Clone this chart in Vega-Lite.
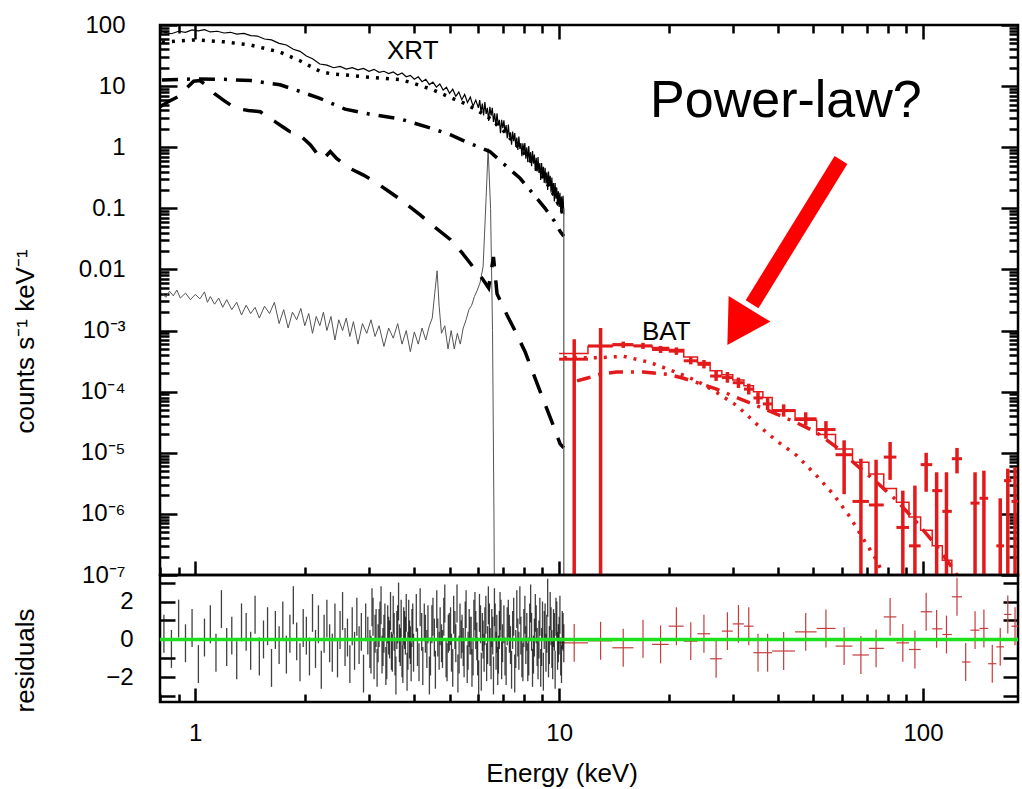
{
  "$schema": "https://vega.github.io/schema/vega-lite/v6.json",
  "background": "white",
  "padding": {"left": 10, "top": 11, "right": 0, "bottom": 0},
  "bounds": "flush",
  "spacing": 0,
  "config": {
    "font": "Liberation Sans",
    "view": {"stroke": "black", "strokeWidth": 2.5},
    "axis": {"domain": false, "grid": false, "tickColor": "black", "tickWidth": 2.5, "labelColor": "black", "titleColor": "black", "labelFont": "Liberation Sans", "titleFont": "Liberation Sans", "labelFontSize": 24, "titleFontSize": 26, "titleFontWeight": "normal", "labelOverlap": false, "labelFlush": false}
  },
  "vconcat": [
    {
      "width": 858,
      "height": 550,
      "resolve": {"axis": {"x": "independent", "y": "independent"}},
      "layer": [
        {
          "data": {"values": [
            {"e":0.81,"v":4.1e-3},{"e":0.83,"v":3.5e-3},{"e":0.85,"v":4.4e-3},{"e":0.87,"v":3.7e-3},{"e":0.89,"v":4.6e-3},{"e":0.91,"v":3.4e-3},{"e":0.94,"v":4.1e-3},{"e":0.97,"v":3.2e-3},{"e":1.0,"v":3.9e-3},{"e":1.03,"v":3.3e-3},{"e":1.06,"v":4.3e-3},{"e":1.08,"v":2.9e-3},{"e":1.1,"v":3.6e-3},{"e":1.13,"v":2.7e-3},{"e":1.16,"v":3.4e-3},{"e":1.19,"v":2.4e-3},{"e":1.22,"v":3.2e-3},{"e":1.26,"v":2.2e-3},{"e":1.3,"v":2.9e-3},{"e":1.34,"v":1.8e-3},{"e":1.38,"v":2.6e-3},{"e":1.42,"v":1.9e-3},{"e":1.46,"v":2.4e-3},{"e":1.5,"v":1.6e-3},{"e":1.55,"v":2.5e-3},{"e":1.6,"v":1.9e-3},{"e":1.65,"v":2.9e-3},{"e":1.7,"v":1.3e-3},{"e":1.75,"v":2.2e-3},{"e":1.8,"v":1.1e-3},{"e":1.85,"v":2.0e-3},{"e":1.9,"v":1.5e-3},{"e":1.95,"v":2.3e-3},{"e":2.0,"v":1.2e-3},{"e":2.05,"v":1.9e-3},{"e":2.1,"v":0.9e-3},{"e":2.15,"v":1.7e-3},{"e":2.2,"v":1.2e-3},{"e":2.25,"v":2.0e-3},{"e":2.3,"v":1.0e-3},{"e":2.36,"v":1.7e-3},{"e":2.42,"v":0.7e-3},{"e":2.48,"v":1.5e-3},{"e":2.54,"v":1.0e-3},{"e":2.6,"v":1.6e-3},{"e":2.66,"v":0.8e-3},{"e":2.72,"v":1.4e-3},{"e":2.8,"v":0.6e-3},{"e":2.88,"v":1.3e-3},{"e":2.96,"v":0.9e-3},{"e":3.04,"v":1.5e-3},{"e":3.12,"v":0.8e-3},{"e":3.2,"v":1.2e-3},{"e":3.3,"v":0.55e-3},{"e":3.4,"v":1.1e-3},{"e":3.5,"v":0.75e-3},{"e":3.6,"v":1.3e-3},{"e":3.7,"v":0.6e-3},{"e":3.8,"v":1.0e-3},{"e":3.9,"v":0.45e-3},{"e":4.0,"v":0.95e-3},{"e":4.1,"v":0.6e-3},{"e":4.2,"v":1.1e-3},{"e":4.3,"v":0.7e-3},{"e":4.4,"v":1.2e-3},{"e":4.48,"v":1.6e-3},{"e":4.55,"v":4e-3},{"e":4.62,"v":9.5e-3},{"e":4.68,"v":2.5e-3},{"e":4.75,"v":0.9e-3},{"e":4.85,"v":1.2e-3},{"e":4.95,"v":0.5e-3},{"e":5.05,"v":1.0e-3},{"e":5.15,"v":0.5e-3},{"e":5.25,"v":0.9e-3},{"e":5.35,"v":0.6e-3},{"e":5.45,"v":1.1e-3},{"e":5.55,"v":1.5e-3},{"e":5.65,"v":2.2e-3},{"e":5.75,"v":2.6e-3},{"e":5.85,"v":3.6e-3},{"e":5.95,"v":4.5e-3},{"e":6.06,"v":6e-3},{"e":6.18,"v":0.011},{"e":6.3,"v":0.15},{"e":6.38,"v":0.95},{"e":6.48,"v":0.1},{"e":6.56,"v":1e-3},{"e":6.62,"v":1e-6},{"e":6.66,"v":1e-9}
          ]},
          "mark": {"type": "line", "color": "#555555", "strokeWidth": 1, "clip": true},
          "encoding": {
            "x": {"field": "e", "type": "quantitative", "scale": {"type": "log", "domain": [0.8, 182.4], "nice": false},
              "axis": {"orient": "bottom", "values": [0.8,0.9,1,2,3,4,5,6,7,8,9,10,20,30,40,50,60,70,80,90,100], "labels": false, "title": null,
                "tickSize": {"condition": {"test": "abs(log(datum.value)/LN10 - round(log(datum.value)/LN10)) < 0.001", "value": -14}, "value": -8}}},
            "y": {"field": "v", "type": "quantitative", "scale": {"type": "log", "domain": [1e-7, 100], "nice": false},
              "axis": {"orient": "left",
                "values": [1e-7,2e-7,3e-7,4e-7,5e-7,6e-7,7e-7,8e-7,9e-7,1e-6,2e-6,3e-6,4e-6,5e-6,6e-6,7e-6,8e-6,9e-6,1e-5,2e-5,3e-5,4e-5,5e-5,6e-5,7e-5,8e-5,9e-5,1e-4,2e-4,3e-4,4e-4,5e-4,6e-4,7e-4,8e-4,9e-4,0.001,0.002,0.003,0.004,0.005,0.006,0.007,0.008,0.009,0.01,0.02,0.03,0.04,0.05,0.06,0.07,0.08,0.09,0.1,0.2,0.3,0.4,0.5,0.6,0.7,0.8,0.9,1,2,3,4,5,6,7,8,9,10,20,30,40,50,60,70,80,90,100],
                "labelExpr": "abs(log(datum.value)/LN10 - round(log(datum.value)/LN10)) > 0.001 ? '' : (datum.value >= 1 ? format(datum.value, 'd') : (datum.value >= 0.009 ? format(datum.value, '') : '10⁻' + ['','','','³','⁴','⁵','⁶','⁷'][round(-log(datum.value)/LN10)]))",
                "labelPadding": 52,
                "tickSize": {"condition": {"test": "abs(log(datum.value)/LN10 - round(log(datum.value)/LN10)) < 0.001", "value": -17}, "value": -9},
                "title": "counts s⁻¹ keV⁻¹", "titleX": -127, "titleY": 316, "titleBaseline": "alphabetic"}}
          }
        },
        {
          "data": {"values": [
            {"e":0.81,"v":12.6},{"e":0.9,"v":12.9},{"e":1.0,"v":13.1},{"e":1.2,"v":12.9},{"e":1.42,"v":12.3},{"e":1.71,"v":10.5},{"e":1.94,"v":8.2},{"e":2.2,"v":6.3},{"e":2.58,"v":4.2},{"e":3.0,"v":3.5},{"e":3.66,"v":2.9},{"e":4.5,"v":2.0},{"e":5.02,"v":1.6},{"e":5.5,"v":1.25},{"e":6.45,"v":0.85},{"e":7.0,"v":0.55},{"e":7.81,"v":0.31},{"e":8.5,"v":0.17},{"e":9.15,"v":0.1},{"e":9.7,"v":0.062},{"e":10.06,"v":0.042},{"e":10.3,"v":0.035}
          ]},
          "mark": {"type": "line", "color": "black", "strokeWidth": 3.5, "strokeDash": [16, 9, 3, 9], "clip": true},
          "encoding": {
            "x": {"field": "e", "type": "quantitative", "scale": {"type": "log", "domain": [0.8, 182.4], "nice": false},
              "axis": {"orient": "top", "values": [0.8,0.9,1,2,3,4,5,6,7,8,9,10,20,30,40,50,60,70,80,90,100], "labels": false, "title": null,
                "tickSize": {"condition": {"test": "abs(log(datum.value)/LN10 - round(log(datum.value)/LN10)) < 0.001", "value": -14}, "value": -8}}},
            "y": {"field": "v", "type": "quantitative", "scale": {"type": "log", "domain": [1e-7, 100], "nice": false},
              "axis": {"orient": "right",
                "values": [1e-7,2e-7,3e-7,4e-7,5e-7,6e-7,7e-7,8e-7,9e-7,1e-6,2e-6,3e-6,4e-6,5e-6,6e-6,7e-6,8e-6,9e-6,1e-5,2e-5,3e-5,4e-5,5e-5,6e-5,7e-5,8e-5,9e-5,1e-4,2e-4,3e-4,4e-4,5e-4,6e-4,7e-4,8e-4,9e-4,0.001,0.002,0.003,0.004,0.005,0.006,0.007,0.008,0.009,0.01,0.02,0.03,0.04,0.05,0.06,0.07,0.08,0.09,0.1,0.2,0.3,0.4,0.5,0.6,0.7,0.8,0.9,1,2,3,4,5,6,7,8,9,10,20,30,40,50,60,70,80,90,100],
                "labels": false, "title": null,
                "tickSize": {"condition": {"test": "abs(log(datum.value)/LN10 - round(log(datum.value)/LN10)) < 0.001", "value": -17}, "value": -9}}}
          }
        },
        {
          "data": {"values": [
            {"e":0.81,"v":52},{"e":0.9,"v":55},{"e":1.0,"v":57},{"e":1.1,"v":55},{"e":1.2,"v":53},{"e":1.42,"v":47},{"e":1.71,"v":36},{"e":1.94,"v":26},{"e":2.2,"v":17.5},{"e":2.35,"v":16},{"e":2.5,"v":15.5},{"e":2.66,"v":15},{"e":3.0,"v":14},{"e":3.66,"v":12.8},{"e":4.0,"v":11},{"e":4.5,"v":8.7},{"e":5.0,"v":6.6},{"e":5.5,"v":5.2},{"e":6.0,"v":3.9},{"e":6.5,"v":2.9},{"e":7.0,"v":1.9},{"e":7.5,"v":1.2},{"e":8.0,"v":0.8},{"e":8.5,"v":0.52},{"e":9.0,"v":0.33},{"e":9.5,"v":0.2},{"e":10.0,"v":0.11},{"e":10.3,"v":0.075}
          ]},
          "mark": {"type": "line", "color": "black", "strokeWidth": 3.5, "strokeDash": [3, 7], "clip": true},
          "encoding": {
            "x": {"field": "e", "type": "quantitative", "scale": {"type": "log", "domain": [0.8, 182.4], "nice": false}, "axis": null},
            "y": {"field": "v", "type": "quantitative", "scale": {"type": "log", "domain": [1e-7, 100], "nice": false}, "axis": null}
          }
        },
        {
          "data": {"values": [
            {"e":0.8,"v":4.6},{"e":0.84,"v":5.5},{"e":0.9,"v":6.8},{"e":0.95,"v":9.5},{"e":0.99,"v":12},{"e":1.03,"v":12.3},{"e":1.08,"v":10},{"e":1.13,"v":7.5},{"e":1.2,"v":5.8},{"e":1.29,"v":4.3},{"e":1.4,"v":4.0},{"e":1.51,"v":3.8},{"e":1.58,"v":3.1},{"e":1.66,"v":2.6},{"e":1.75,"v":2.1},{"e":1.82,"v":1.8},{"e":1.9,"v":1.75},{"e":1.98,"v":1.4},{"e":2.07,"v":1.1},{"e":2.14,"v":0.85},{"e":2.2,"v":0.65},{"e":2.28,"v":0.7},{"e":2.35,"v":0.85},{"e":2.45,"v":0.65},{"e":2.66,"v":0.45},{"e":2.9,"v":0.35},{"e":3.12,"v":0.27},{"e":3.4,"v":0.19},{"e":3.66,"v":0.14},{"e":4.15,"v":0.078},{"e":4.5,"v":0.052},{"e":5.02,"v":0.031},{"e":5.4,"v":0.019},{"e":5.8,"v":0.011},{"e":6.18,"v":0.0068},{"e":6.4,"v":0.005},{"e":6.6,"v":0.016},{"e":6.75,"v":0.004},{"e":7.19,"v":0.0018},{"e":7.56,"v":0.001},{"e":8.06,"v":4.5e-4},{"e":8.87,"v":1e-4},{"e":9.5,"v":3.5e-5},{"e":10.06,"v":1.4e-5},{"e":10.3,"v":1.2e-5}
          ]},
          "mark": {"type": "line", "color": "black", "strokeWidth": 3.5, "strokeDash": [20, 14], "clip": true},
          "encoding": {
            "x": {"field": "e", "type": "quantitative", "scale": {"type": "log", "domain": [0.8, 182.4], "nice": false}, "axis": null},
            "y": {"field": "v", "type": "quantitative", "scale": {"type": "log", "domain": [1e-7, 100], "nice": false}, "axis": null}
          }
        },
        {
          "data": {"values": [
            {"e":0.82,"v":76},{"e":0.86,"v":72},{"e":0.9,"v":79},{"e":0.94,"v":76},{"e":0.98,"v":83},{"e":1.02,"v":80},{"e":1.06,"v":84},{"e":1.1,"v":77},{"e":1.15,"v":79},{"e":1.2,"v":74},{"e":1.25,"v":76},{"e":1.3,"v":71},{"e":1.36,"v":73},{"e":1.42,"v":67},{"e":1.48,"v":66},{"e":1.55,"v":59},{"e":1.62,"v":57},{"e":1.7,"v":50},{"e":1.78,"v":47},{"e":1.86,"v":40},{"e":1.94,"v":37},{"e":2.02,"v":31},{"e":2.1,"v":28},{"e":2.2,"v":23},{"e":2.3,"v":22},{"e":2.4,"v":20},{"e":2.5,"v":21},{"e":2.6,"v":19},{"e":2.7,"v":20},{"e":2.8,"v":18.5},{"e":2.9,"v":19.5},{"e":3.0,"v":17.5},{"e":3.1,"v":18.8},{"e":3.2,"v":16.8},{"e":3.3,"v":17.5},{"e":3.4,"v":16.0},{"e":3.5,"v":17.0},{"e":3.6,"v":15.2},{"e":3.7,"v":16.4},{"e":3.8,"v":14.2},{"e":3.9,"v":15.0},{"e":4.0,"v":13.0},{"e":4.1,"v":14.2},{"e":4.2,"v":11.8},{"e":4.3,"v":12.9},{"e":4.4,"v":10.6},{"e":4.5,"v":11.6},{"e":4.6,"v":9.6},{"e":4.7,"v":10.8},{"e":4.8,"v":8.6},{"e":4.9,"v":9.6},{"e":5.0,"v":7.6},{"e":5.1,"v":8.9},{"e":5.2,"v":6.8},{"e":5.3,"v":8.0},{"e":5.4,"v":6.0},{"e":5.5,"v":7.3},{"e":5.6,"v":5.4},{"e":5.7,"v":6.6},{"e":5.8,"v":4.7},{"e":5.9,"v":5.9},{"e":6.0,"v":4.4},
            {"e":6.05,"v":5.9},{"e":6.1,"v":3.7},{"e":6.15,"v":5.2},{"e":6.2,"v":3.3},{"e":6.25,"v":5.5},{"e":6.3,"v":3.5},{"e":6.35,"v":4.4},{"e":6.4,"v":2.7},{"e":6.45,"v":4.6},{"e":6.5,"v":3.3},{"e":6.55,"v":4.4},{"e":6.6,"v":2.6},{"e":6.65,"v":3.6},{"e":6.7,"v":2.2},{"e":6.75,"v":3.6},{"e":6.8,"v":2.25},{"e":6.85,"v":2.8},{"e":6.9,"v":1.7},{"e":6.95,"v":2.8},{"e":7.0,"v":2.05},{"e":7.05,"v":2.75},{"e":7.1,"v":1.7},{"e":7.15,"v":2.3},{"e":7.2,"v":1.4},{"e":7.25,"v":2.35},{"e":7.3,"v":1.45},{"e":7.35,"v":1.75},{"e":7.4,"v":1.1},{"e":7.45,"v":1.8},{"e":7.5,"v":1.26},{"e":7.55,"v":1.7},{"e":7.6,"v":1.04},{"e":7.65,"v":1.44},{"e":7.7,"v":0.9},{"e":7.75,"v":1.5},{"e":7.8,"v":0.94},{"e":7.85,"v":1.17},{"e":7.9,"v":0.71},{"e":7.95,"v":1.16},{"e":8.0,"v":0.84},{"e":8.05,"v":1.17},{"e":8.1,"v":0.65},{"e":8.15,"v":1.0},{"e":8.2,"v":0.57},{"e":8.25,"v":1.05},{"e":8.3,"v":0.6},{"e":8.35,"v":0.83},{"e":8.4,"v":0.49},{"e":8.45,"v":0.87},{"e":8.5,"v":0.54},{"e":8.55,"v":0.76},{"e":8.6,"v":0.41},{"e":8.65,"v":0.67},{"e":8.7,"v":0.4},{"e":8.75,"v":0.69},{"e":8.8,"v":0.38},{"e":8.85,"v":0.55},{"e":8.9,"v":0.29},{"e":8.95,"v":0.55},{"e":9.0,"v":0.32},{"e":9.05,"v":0.48},{"e":9.1,"v":0.26},{"e":9.15,"v":0.46},{"e":9.2,"v":0.255},{"e":9.25,"v":0.39},{"e":9.3,"v":0.2},{"e":9.35,"v":0.4},{"e":9.4,"v":0.23},{"e":9.45,"v":0.34},{"e":9.5,"v":0.18},{"e":9.55,"v":0.32},{"e":9.6,"v":0.17},{"e":9.65,"v":0.26},{"e":9.7,"v":0.13},{"e":9.75,"v":0.26},{"e":9.8,"v":0.144},{"e":9.85,"v":0.22},{"e":9.9,"v":0.11},{"e":9.95,"v":0.19},{"e":10.0,"v":0.105},{"e":10.05,"v":0.18},{"e":10.1,"v":0.088},{"e":10.15,"v":0.156},{"e":10.2,"v":0.083},{"e":10.25,"v":0.16},{"e":10.3,"v":0.08}
          ]},
          "mark": {"type": "line", "color": "black", "strokeWidth": 1.2, "clip": true},
          "encoding": {
            "x": {"field": "e", "type": "quantitative", "scale": {"type": "log", "domain": [0.8, 182.4], "nice": false}, "axis": null},
            "y": {"field": "v", "type": "quantitative", "scale": {"type": "log", "domain": [1e-7, 100], "nice": false}, "axis": null}
          }
        },
        {
          "data": {"values": [{"e": 10.3, "v": 0.1, "v2": 1e-9}]},
          "mark": {"type": "rule", "color": "#555555", "strokeWidth": 1.2, "clip": true},
          "encoding": {
            "x": {"field": "e", "type": "quantitative", "scale": {"type": "log", "domain": [0.8, 182.4], "nice": false}, "axis": null},
            "y": {"field": "v", "type": "quantitative", "scale": {"type": "log", "domain": [1e-7, 100], "nice": false}, "axis": null},
            "y2": {"field": "v2"}
          }
        },
        {
          "data": {"values": [
            {"e":10.0,"v":4.2e-4},{"e":12.0,"v":5.5e-4},{"e":14.0,"v":5.7e-4},{"e":16.0,"v":5.7e-4},{"e":18.0,"v":5.3e-4},{"e":20.0,"v":4.9e-4},{"e":22.0,"v":3.7e-4},{"e":24.0,"v":3.0e-4},{"e":26.0,"v":2.2e-4},{"e":28.0,"v":1.9e-4},{"e":30.0,"v":1.55e-4},{"e":32.2,"v":1.25e-4},{"e":34.2,"v":1.0e-4},{"e":36.3,"v":8.0e-5},{"e":38.5,"v":5.0e-5},{"e":44.5,"v":3.4e-5},{"e":51,"v":2.0e-5},{"e":57.5,"v":1.15e-5},{"e":64,"v":7.0e-6},{"e":71,"v":4.5e-6},{"e":78,"v":2.6e-6},{"e":84.5,"v":1.55e-6},{"e":91.5,"v":8.9e-7},{"e":98.5,"v":5.4e-7},{"e":106,"v":3.0e-7},{"e":113,"v":1.74e-7},{"e":120,"v":9e-8},{"e":128,"v":5e-8},{"e":183,"v":1e-9}
          ]},
          "mark": {"type": "line", "color": "#e31a1c", "strokeWidth": 1.5, "interpolate": "step-after", "clip": true},
          "encoding": {
            "x": {"field": "e", "type": "quantitative", "scale": {"type": "log", "domain": [0.8, 182.4], "nice": false}, "axis": null},
            "y": {"field": "v", "type": "quantitative", "scale": {"type": "log", "domain": [1e-7, 100], "nice": false}, "axis": null}
          }
        },
        {
          "data": {"values": [
            {"e":10.3,"v":3.6e-4},{"e":12.96,"v":3.6e-4},{"e":15.0,"v":3.8e-4},{"e":17.8,"v":3.0e-4},{"e":21.1,"v":2.05e-4},{"e":23.9,"v":1.5e-4},{"e":27.1,"v":9.7e-5},{"e":30.8,"v":5.9e-5},{"e":34.9,"v":2.95e-5},{"e":39.6,"v":1.57e-5},{"e":45.0,"v":9e-6},{"e":51.0,"v":4.2e-6},{"e":56.7,"v":2.1e-6},{"e":63,"v":8.9e-7},{"e":68.5,"v":3.9e-7},{"e":74.6,"v":1.74e-7},{"e":77.8,"v":1e-7},{"e":80,"v":6e-8}
          ]},
          "mark": {"type": "line", "color": "#e31a1c", "strokeWidth": 3.5, "strokeDash": [3, 7], "clip": true},
          "encoding": {
            "x": {"field": "e", "type": "quantitative", "scale": {"type": "log", "domain": [0.8, 182.4], "nice": false}, "axis": null},
            "y": {"field": "v", "type": "quantitative", "scale": {"type": "log", "domain": [1e-7, 100], "nice": false}, "axis": null}
          }
        },
        {
          "data": {"values": [
            {"e":11.2,"v":1.5e-4},{"e":11.9,"v":1.66e-4},{"e":12.96,"v":1.93e-4},{"e":14.4,"v":2.1e-4},{"e":17.05,"v":2.1e-4},{"e":19.8,"v":1.93e-4},{"e":21.95,"v":1.66e-4},{"e":23.9,"v":1.41e-4},{"e":27.1,"v":1.1e-4},{"e":30.8,"v":8.0e-5},{"e":34.9,"v":5.9e-5},{"e":39.6,"v":4.3e-5},{"e":45.0,"v":3.1e-5},{"e":51.0,"v":2.15e-5},{"e":57.9,"v":1.23e-5},{"e":65.8,"v":6.2e-6},{"e":74.6,"v":3.3e-6},{"e":84.7,"v":1.65e-6},{"e":96.0,"v":7.3e-7},{"e":106.6,"v":3.5e-7},{"e":118.5,"v":1.5e-7},{"e":124,"v":1e-7},{"e":130,"v":6e-8}
          ]},
          "mark": {"type": "line", "color": "#e31a1c", "strokeWidth": 3.5, "strokeDash": [14, 8, 3, 8], "clip": true},
          "encoding": {
            "x": {"field": "e", "type": "quantitative", "scale": {"type": "log", "domain": [0.8, 182.4], "nice": false}, "axis": null},
            "y": {"field": "v", "type": "quantitative", "scale": {"type": "log", "domain": [1e-7, 100], "nice": false}, "axis": null}
          }
        },
        {
          "data": {"name": "bat", "values": [
            {"e":11.0,"e1":10.0,"e2":12.0,"v":3.4e-4,"lo":1e-9,"hi":7.2e-4},
            {"e":13.0,"e1":12.0,"e2":14.0,"v":5.6e-4,"lo":1e-9,"hi":1.1e-3},
            {"e":15.0,"e1":14.0,"e2":16.0,"v":5.9e-4,"lo":5.2e-4,"hi":6.6e-4},
            {"e":17.0,"e1":16.0,"e2":18.0,"v":5.6e-4,"lo":5.0e-4,"hi":6.3e-4},
            {"e":19.0,"e1":18.0,"e2":20.0,"v":4.9e-4,"lo":4.3e-4,"hi":5.6e-4},
            {"e":21.0,"e1":20.0,"e2":22.0,"v":4.6e-4,"lo":4.0e-4,"hi":5.3e-4},
            {"e":23.0,"e1":22.0,"e2":24.0,"v":3.2e-4,"lo":2.8e-4,"hi":3.7e-4},
            {"e":25.0,"e1":24.0,"e2":26.0,"v":2.8e-4,"lo":2.4e-4,"hi":3.3e-4},
            {"e":27.0,"e1":26.0,"e2":28.0,"v":1.8e-4,"lo":1.5e-4,"hi":2.2e-4},
            {"e":29.0,"e1":28.0,"e2":30.0,"v":1.7e-4,"lo":1.4e-4,"hi":2.1e-4},
            {"e":31.1,"e1":30.0,"e2":32.2,"v":1.4e-4,"lo":1.15e-4,"hi":1.7e-4},
            {"e":33.2,"e1":32.2,"e2":34.2,"v":1.1e-4,"lo":0.9e-4,"hi":1.35e-4},
            {"e":35.2,"e1":34.2,"e2":36.3,"v":7.9e-5,"lo":6.3e-5,"hi":9.8e-5},
            {"e":37.4,"e1":36.3,"e2":38.5,"v":6.3e-5,"lo":5.0e-5,"hi":8.0e-5},
            {"e":41.4,"e1":38.5,"e2":44.5,"v":4.9e-5,"lo":3.9e-5,"hi":6.2e-5},
            {"e":47.6,"e1":44.5,"e2":51,"v":3.6e-5,"lo":2.8e-5,"hi":4.6e-5},
            {"e":54.1,"e1":51,"e2":57.5,"v":2.4e-5,"lo":1.7e-5,"hi":3.3e-5},
            {"e":60.7,"e1":57.5,"e2":64,"v":9.3e-6,"lo":2.1e-6,"hi":1.6e-5},
            {"e":67.5,"e1":64,"e2":71,"v":1.6e-6,"lo":1e-9,"hi":8e-6},
            {"e":74.3,"e1":71,"e2":78,"v":1.4e-6,"lo":1e-9,"hi":7.7e-6},
            {"e":81.2,"e1":78,"e2":84.5,"v":8.5e-6,"lo":3.6e-6,"hi":1.5e-5},
            {"e":88,"e1":84.5,"e2":91.5,"v":6e-7,"lo":1e-9,"hi":2.4e-6},
            {"e":95,"e1":91.5,"e2":98.5,"v":3e-7,"lo":1e-9,"hi":2.9e-6},
            {"e":102,"e1":98.5,"e2":106,"v":6.4e-6,"lo":2.3e-6,"hi":1.0e-5},
            {"e":109,"e1":106,"e2":113,"v":2.4e-6,"lo":1e-9,"hi":4.8e-6},
            {"e":116,"e1":113,"e2":120,"v":1.1e-6,"lo":1e-9,"hi":4.8e-6},
            {"e":124,"e1":120,"e2":128,"v":8.0e-6,"lo":4.6e-6,"hi":1.2e-5},
            {"e":139,"e1":135,"e2":143,"v":1.5e-6,"lo":1e-9,"hi":4.8e-6},
            {"e":147,"e1":143,"e2":151,"v":1.8e-6,"lo":1e-9,"hi":5.1e-6},
            {"e":163,"e1":159,"e2":167,"v":3e-7,"lo":1e-9,"hi":1.8e-6},
            {"e":171,"e1":167,"e2":175,"v":3.5e-6,"lo":1e-9,"hi":5.5e-6},
            {"e":179,"e1":175,"e2":183,"v":1.6e-6,"lo":1e-9,"hi":5.8e-6}
          ]},
          "mark": {"type": "rule", "color": "#e31a1c", "strokeWidth": 3.5, "clip": true},
          "encoding": {
            "x": {"field": "e", "type": "quantitative", "scale": {"type": "log", "domain": [0.8, 182.4], "nice": false}, "axis": null},
            "y": {"field": "lo", "type": "quantitative", "scale": {"type": "log", "domain": [1e-7, 100], "nice": false}, "axis": null},
            "y2": {"field": "hi"}
          }
        },
        {
          "data": {"name": "bat"},
          "mark": {"type": "rule", "color": "#e31a1c", "strokeWidth": 3, "clip": true},
          "encoding": {
            "x": {"field": "e1", "type": "quantitative", "scale": {"type": "log", "domain": [0.8, 182.4], "nice": false}, "axis": null},
            "x2": {"field": "e2"},
            "y": {"field": "v", "type": "quantitative", "scale": {"type": "log", "domain": [1e-7, 100], "nice": false}, "axis": null}
          }
        },
        {
          "data": {"values": [{"e": 59.5, "v": 0.617, "e2": 33.9, "v2": 2.7e-3}]},
          "mark": {"type": "rule", "color": "#ff0000", "strokeWidth": 15, "strokeCap": "butt"},
          "encoding": {
            "x": {"field": "e", "type": "quantitative", "scale": {"type": "log", "domain": [0.8, 182.4], "nice": false}, "axis": null},
            "y": {"field": "v", "type": "quantitative", "scale": {"type": "log", "domain": [1e-7, 100], "nice": false}, "axis": null},
            "x2": {"field": "e2"},
            "y2": {"field": "v2"}
          }
        },
        {
          "data": {"values": [{"e": 31.1, "v": 1.15e-3}]},
          "mark": {"type": "point", "shape": "triangle-up", "filled": true, "color": "#ff0000", "opacity": 1, "size": 2400, "angle": 211.5},
          "encoding": {
            "x": {"field": "e", "type": "quantitative", "scale": {"type": "log", "domain": [0.8, 182.4], "nice": false}, "axis": null},
            "y": {"field": "v", "type": "quantitative", "scale": {"type": "log", "domain": [1e-7, 100], "nice": false}, "axis": null}
          }
        },
        {
          "data": {"values": [
            {"e": 3.96, "v": 28.1, "t": "XRT"},
            {"e": 19.7, "v": 6.9e-4, "t": "BAT"}
          ]},
          "mark": {"type": "text", "font": "Liberation Sans", "fontSize": 26, "align": "center", "baseline": "alphabetic", "color": "black"},
          "encoding": {
            "x": {"field": "e", "type": "quantitative", "scale": {"type": "log", "domain": [0.8, 182.4], "nice": false}, "axis": null},
            "y": {"field": "v", "type": "quantitative", "scale": {"type": "log", "domain": [1e-7, 100], "nice": false}, "axis": null},
            "text": {"field": "t"}
          }
        },
        {
          "data": {"values": [{"e": 42.0, "v": 3.12, "t": "Power-law?"}]},
          "mark": {"type": "text", "font": "Liberation Sans", "fontSize": 52, "align": "center", "baseline": "alphabetic", "color": "black"},
          "encoding": {
            "x": {"field": "e", "type": "quantitative", "scale": {"type": "log", "domain": [0.8, 182.4], "nice": false}, "axis": null},
            "y": {"field": "v", "type": "quantitative", "scale": {"type": "log", "domain": [1e-7, 100], "nice": false}, "axis": null},
            "text": {"field": "t"}
          }
        }
      ]
    },
    {
      "width": 858,
      "height": 127,
      "resolve": {"axis": {"x": "independent", "y": "independent"}},
      "layer": [
        {
          "data": {"name": "batres", "values": [
            {"e":11.0,"e1":10.0,"e2":12.0,"r":-0.18,"lo":-1.18,"hi":0.82},{"e":13.0,"e1":12.0,"e2":14.0,"r":-0.07,"lo":-1.07,"hi":0.93},{"e":15.0,"e1":14.0,"e2":16.0,"r":-0.44,"lo":-1.44,"hi":0.56},{"e":17.0,"e1":16.0,"e2":18.0,"r":0.04,"lo":-0.96,"hi":1.04},{"e":19.0,"e1":18.0,"e2":20.0,"r":-0.26,"lo":-1.26,"hi":0.74},{"e":21.0,"e1":20.0,"e2":22.0,"r":0.70,"lo":-0.30,"hi":1.70},{"e":23.0,"e1":22.0,"e2":24.0,"r":-0.09,"lo":-1.09,"hi":0.91},{"e":25.0,"e1":24.0,"e2":26.0,"r":0.30,"lo":-0.70,"hi":1.30},{"e":27.0,"e1":26.0,"e2":28.0,"r":-1.02,"lo":-2.02,"hi":-0.02},{"e":29.0,"e1":28.0,"e2":30.0,"r":0.44,"lo":-0.56,"hi":1.44},{"e":31.1,"e1":30.0,"e2":32.2,"r":0.82,"lo":-0.18,"hi":1.82},{"e":33.2,"e1":32.2,"e2":34.2,"r":0.70,"lo":-0.30,"hi":1.70},{"e":35.2,"e1":34.2,"e2":36.3,"r":-0.70,"lo":-1.70,"hi":0.30},{"e":37.4,"e1":36.3,"e2":38.5,"r":-0.70,"lo":-1.70,"hi":0.30},{"e":41.4,"e1":38.5,"e2":44.5,"r":-0.61,"lo":-1.61,"hi":0.39},{"e":47.6,"e1":44.5,"e2":51,"r":0.40,"lo":-0.60,"hi":1.40},{"e":54.1,"e1":51,"e2":57.5,"r":0.58,"lo":-0.42,"hi":1.58},{"e":60.7,"e1":57.5,"e2":64,"r":-0.35,"lo":-1.35,"hi":0.65},{"e":67.5,"e1":64,"e2":71,"r":-0.82,"lo":-1.82,"hi":0.18},{"e":74.3,"e1":71,"e2":78,"r":-0.47,"lo":-1.47,"hi":0.53},{"e":81.2,"e1":78,"e2":84.5,"r":1.19,"lo":0.19,"hi":2.19},{"e":88,"e1":84.5,"e2":91.5,"r":-0.18,"lo":-1.18,"hi":0.82},{"e":95,"e1":91.5,"e2":98.5,"r":-0.53,"lo":-1.53,"hi":0.47},{"e":102,"e1":98.5,"e2":106,"r":1.46,"lo":0.46,"hi":2.46},{"e":109,"e1":106,"e2":113,"r":0.56,"lo":-0.44,"hi":1.56},{"e":116,"e1":113,"e2":120,"r":0.26,"lo":-0.74,"hi":1.26},{"e":124,"e1":120,"e2":128,"r":2.25,"lo":1.25,"hi":3.25},{"e":131,"e1":128,"e2":135,"r":-1.19,"lo":-2.19,"hi":-0.19},{"e":139,"e1":135,"e2":143,"r":0.49,"lo":-0.51,"hi":1.49},{"e":147,"e1":143,"e2":151,"r":0.58,"lo":-0.42,"hi":1.58},{"e":155,"e1":151,"e2":159,"r":-1.28,"lo":-2.28,"hi":-0.28},{"e":163,"e1":159,"e2":167,"r":-0.39,"lo":-1.39,"hi":0.61},{"e":171,"e1":167,"e2":175,"r":1.32,"lo":0.32,"hi":2.32},{"e":179,"e1":175,"e2":183,"r":0.70,"lo":-0.30,"hi":1.70}
          ]},
          "mark": {"type": "rule", "color": "#c43c3c", "strokeWidth": 1.2, "clip": true},
          "encoding": {
            "x": {"field": "e1", "type": "quantitative", "scale": {"type": "log", "domain": [0.8, 182.4], "nice": false},
              "axis": {"orient": "bottom", "values": [0.8,0.9,1,2,3,4,5,6,7,8,9,10,20,30,40,50,60,70,80,90,100],
                "labelExpr": "abs(log(datum.value)/LN10 - round(log(datum.value)/LN10)) < 0.001 ? format(datum.value, 'd') : ''",
                "labelPadding": 52, "labelBaseline": "alphabetic",
                "tickSize": {"condition": {"test": "abs(log(datum.value)/LN10 - round(log(datum.value)/LN10)) < 0.001", "value": -14}, "value": -8},
                "title": "Energy (keV)", "titleX": 401.5, "titleY": 79, "titleBaseline": "alphabetic", "titleAlign": "center"}},
            "x2": {"field": "e2"},
            "y": {"field": "r", "type": "quantitative", "scale": {"domain": [-3.3, 3.4], "nice": false, "zero": false},
              "axis": {"orient": "left", "values": [-3,-2,-1,0,1,2,3],
                "labelExpr": "datum.value == 2 ? '2' : (datum.value == 0 ? '0' : (datum.value == -2 ? '−2' : ''))",
                "labelPadding": 42, "tickSize": -15,
                "title": "residuals", "titleX": -127, "titleY": 85, "titleBaseline": "alphabetic"}}
          }
        },
        {
          "data": {"name": "batres"},
          "mark": {"type": "rule", "color": "#c43c3c", "strokeWidth": 1.2, "clip": true},
          "encoding": {
            "x": {"field": "e", "type": "quantitative", "scale": {"type": "log", "domain": [0.8, 182.4], "nice": false}, "axis": null},
            "y": {"field": "lo", "type": "quantitative", "scale": {"domain": [-3.3, 3.4], "nice": false, "zero": false},
              "axis": {"orient": "right", "values": [-3,-2,-1,0,1,2,3], "labels": false, "tickSize": -15, "title": null}},
            "y2": {"field": "hi"}
          }
        },
        {
          "data": {"values": [
            {"e":0.82,"lo":-0.7,"hi":1.3},{"e":0.86,"lo":-1.5,"hi":0.5},{"e":0.9,"lo":0.1,"hi":2.1},{"e":0.94,"lo":-1.2,"hi":0.8},{"e":0.98,"lo":-0.4,"hi":1.6},{"e":1.02,"lo":-2.3,"hi":-0.3},{"e":1.06,"lo":-0.9,"hi":1.1},{"e":1.1,"lo":-0.2,"hi":1.8},{"e":1.14,"lo":-1.7,"hi":0.3},{"e":1.18,"lo":0.6,"hi":2.6},{"e":1.22,"lo":-1.4,"hi":0.6},{"e":1.26,"lo":-0.8,"hi":1.2},{"e":1.3,"lo":-2.1,"hi":-0.1},{"e":1.34,"lo":-0.1,"hi":1.9},{"e":1.38,"lo":-0.6,"hi":1.4},{"e":1.42,"lo":-1.6,"hi":0.4},{"e":1.46,"lo":0.3,"hi":2.3},{"e":1.5,"lo":-1.9,"hi":0.1},{"e":1.54,"lo":-1.0,"hi":1.0},{"e":1.58,"lo":-0.3,"hi":1.7},{"e":1.62,"lo":-2.5,"hi":-0.5},{"e":1.66,"lo":-0.5,"hi":1.5},{"e":1.7,"lo":-1.3,"hi":0.7},{"e":1.74,"lo":0.0,"hi":2.0},{"e":1.78,"lo":-1.8,"hi":0.2},{"e":1.82,"lo":-0.7,"hi":1.3},{"e":1.86,"lo":0.8,"hi":2.8},{"e":1.9,"lo":-1.1,"hi":0.9},{"e":1.94,"lo":-2.2,"hi":-0.2},{"e":1.98,"lo":-0.4,"hi":1.6},
            {"e":2.02,"lo":-0.8,"hi":1.2},{"e":2.06,"lo":-1.9,"hi":0.1},{"e":2.1,"lo":0.4,"hi":2.4},{"e":2.14,"lo":-1.5,"hi":0.5},{"e":2.18,"lo":-0.2,"hi":1.8},{"e":2.22,"lo":-2.6,"hi":-0.6},{"e":2.26,"lo":-0.7,"hi":1.3},{"e":2.3,"lo":0.1,"hi":2.1},{"e":2.34,"lo":-1.2,"hi":0.8},{"e":2.38,"lo":-1.7,"hi":0.3},{"e":2.42,"lo":-0.1,"hi":1.9},{"e":2.46,"lo":-2.0,"hi":0.0},{"e":2.5,"lo":-0.5,"hi":1.5},{"e":2.54,"lo":0.5,"hi":2.5},{"e":2.58,"lo":-1.4,"hi":0.6},{"e":2.62,"lo":-0.9,"hi":1.1},{"e":2.66,"lo":-2.3,"hi":-0.3},{"e":2.7,"lo":-0.3,"hi":1.7},{"e":2.74,"lo":-1.6,"hi":0.4},{"e":2.78,"lo":0.2,"hi":2.2},{"e":2.82,"lo":-1.3,"hi":0.7},{"e":2.86,"lo":-0.6,"hi":1.4},{"e":2.9,"lo":-2.8,"hi":-0.8},{"e":2.94,"lo":-0.1,"hi":1.9},{"e":2.98,"lo":-0.8,"hi":1.2},{"e":3.02,"lo":-1.5,"hi":0.5},{"e":3.06,"lo":0.7,"hi":2.7},{"e":3.1,"lo":-2.1,"hi":-0.1},{"e":3.14,"lo":-0.4,"hi":1.6},{"e":3.18,"lo":-1.2,"hi":0.8},{"e":3.22,"lo":0.0,"hi":2.0},{"e":3.26,"lo":-1.8,"hi":0.2},{"e":3.3,"lo":-0.7,"hi":1.3},{"e":3.34,"lo":-2.4,"hi":-0.4},{"e":3.38,"lo":-0.2,"hi":1.8},{"e":3.42,"lo":-1.0,"hi":1.0},{"e":3.46,"lo":-1.6,"hi":0.4},{"e":3.5,"lo":0.3,"hi":2.3},{"e":3.54,"lo":-1.9,"hi":0.1},{"e":3.58,"lo":-0.5,"hi":1.5},{"e":3.62,"lo":1.0,"hi":3.0},{"e":3.66,"lo":-1.4,"hi":0.6},{"e":3.7,"lo":-2.0,"hi":0.0},{"e":3.74,"lo":-0.3,"hi":1.7},{"e":3.78,"lo":-0.8,"hi":1.2},{"e":3.82,"lo":-2.7,"hi":-0.7},{"e":3.86,"lo":0.1,"hi":2.1},{"e":3.9,"lo":-1.3,"hi":0.7},{"e":3.94,"lo":-0.4,"hi":1.6},{"e":3.98,"lo":-1.7,"hi":0.3},
            {"e":4.05,"lo":0.4,"hi":2.4},{"e":4.12,"lo":-2.2,"hi":-0.2},{"e":4.19,"lo":-0.6,"hi":1.4},{"e":4.26,"lo":-0.1,"hi":1.9},{"e":4.33,"lo":-1.5,"hi":0.5},{"e":4.4,"lo":-2.9,"hi":-0.9},{"e":4.47,"lo":-0.2,"hi":1.8},{"e":4.54,"lo":-0.9,"hi":1.1},{"e":4.61,"lo":0.6,"hi":2.6},{"e":4.68,"lo":-1.6,"hi":0.4},{"e":4.75,"lo":-1.2,"hi":0.8},{"e":4.82,"lo":0.2,"hi":2.2},{"e":4.89,"lo":-2.0,"hi":0.0},{"e":4.96,"lo":-0.7,"hi":1.3},{"e":5.03,"lo":-0.3,"hi":1.7},{"e":5.1,"lo":-2.5,"hi":-0.5},{"e":5.17,"lo":-0.5,"hi":1.5},{"e":5.24,"lo":0.9,"hi":2.9},{"e":5.31,"lo":-1.8,"hi":0.2},{"e":5.38,"lo":-1.0,"hi":1.0},{"e":5.45,"lo":-1.4,"hi":0.6},{"e":5.52,"lo":0.0,"hi":2.0},{"e":5.59,"lo":-2.3,"hi":-0.3},{"e":5.66,"lo":-0.4,"hi":1.6},{"e":5.73,"lo":-0.8,"hi":1.2},{"e":5.8,"lo":-1.9,"hi":0.1},{"e":5.87,"lo":0.5,"hi":2.5},{"e":5.94,"lo":-1.1,"hi":0.9},{"e":6.01,"lo":-3.1,"hi":-1.1},{"e":6.08,"lo":-0.2,"hi":1.8},{"e":6.15,"lo":-0.6,"hi":1.4},{"e":6.22,"lo":-1.7,"hi":0.3},{"e":6.29,"lo":0.3,"hi":2.3},{"e":6.36,"lo":-1.3,"hi":0.7},{"e":6.43,"lo":-0.1,"hi":1.9},{"e":6.5,"lo":-2.1,"hi":-0.1},{"e":6.57,"lo":-0.8,"hi":1.2},{"e":6.64,"lo":0.7,"hi":2.7},{"e":6.71,"lo":-1.6,"hi":0.4},{"e":6.78,"lo":-2.4,"hi":-0.4},{"e":6.85,"lo":-0.5,"hi":1.5},{"e":6.92,"lo":0.1,"hi":2.1},{"e":6.99,"lo":-1.2,"hi":0.8},
            {"e":7.1,"lo":-1.9,"hi":0.1},{"e":7.2,"lo":-0.3,"hi":1.7},{"e":7.3,"lo":-0.7,"hi":1.3},{"e":7.4,"lo":-2.6,"hi":-0.6},{"e":7.5,"lo":0.2,"hi":2.2},{"e":7.6,"lo":-1.5,"hi":0.5},{"e":7.7,"lo":-0.9,"hi":1.1},{"e":7.8,"lo":0.8,"hi":2.8},{"e":7.9,"lo":-2.0,"hi":0.0},{"e":8.0,"lo":-0.4,"hi":1.6},{"e":8.1,"lo":-1.3,"hi":0.7},{"e":8.2,"lo":-2.2,"hi":-0.2},{"e":8.3,"lo":-0.1,"hi":1.9},{"e":8.4,"lo":-0.6,"hi":1.4},{"e":8.5,"lo":-1.8,"hi":0.2},{"e":8.6,"lo":0.4,"hi":2.4},{"e":8.7,"lo":-1.4,"hi":0.6},{"e":8.8,"lo":-1.0,"hi":1.0},{"e":8.9,"lo":-2.5,"hi":-0.5},{"e":9.0,"lo":0.0,"hi":2.0},{"e":9.1,"lo":-0.5,"hi":1.5},{"e":9.2,"lo":-1.7,"hi":0.3},{"e":9.3,"lo":1.2,"hi":3.2},{"e":9.4,"lo":-1.3,"hi":0.7},{"e":9.5,"lo":-0.3,"hi":1.7},{"e":9.6,"lo":-2.1,"hi":-0.1},{"e":9.7,"lo":-0.6,"hi":1.4},{"e":9.8,"lo":0.2,"hi":2.2},{"e":9.9,"lo":-1.6,"hi":0.4},{"e":10.0,"lo":-0.8,"hi":1.2},{"e":10.1,"lo":-1.9,"hi":0.1},{"e":10.2,"lo":-0.5,"hi":1.5},{"e":10.3,"lo":-1.2,"hi":0.8},
            {"e":3.04,"lo":-1.8,"hi":0.2},{"e":3.08,"lo":0.2,"hi":2.2},{"e":3.12,"lo":-0.7,"hi":1.3},{"e":3.16,"lo":-2.5,"hi":-0.5},{"e":3.2,"lo":-0.4,"hi":1.6},{"e":3.24,"lo":0.8,"hi":2.8},{"e":3.28,"lo":-1.4,"hi":0.6},{"e":3.32,"lo":-0.1,"hi":1.9},{"e":3.36,"lo":-2.1,"hi":-0.1},{"e":3.4,"lo":-0.8,"hi":1.2},{"e":3.44,"lo":0.5,"hi":2.5},{"e":3.48,"lo":-1.7,"hi":0.3},{"e":3.52,"lo":-0.6,"hi":1.4},{"e":3.56,"lo":-2.9,"hi":-0.9},{"e":3.6,"lo":-0.2,"hi":1.8},{"e":3.64,"lo":-1.2,"hi":0.8},{"e":3.68,"lo":0.1,"hi":2.1},{"e":3.72,"lo":-2.3,"hi":-0.3},{"e":3.76,"lo":-0.5,"hi":1.5},{"e":3.8,"lo":0.4,"hi":2.4},{"e":3.84,"lo":-1.6,"hi":0.4},{"e":3.88,"lo":-1.0,"hi":1.0},{"e":3.92,"lo":-2.2,"hi":-0.2},{"e":3.96,"lo":-0.1,"hi":1.9},
            {"e":4.08,"lo":-1.4,"hi":0.6},{"e":4.15,"lo":0.7,"hi":2.7},{"e":4.22,"lo":-2.4,"hi":-0.4},{"e":4.29,"lo":-0.7,"hi":1.3},{"e":4.36,"lo":-0.2,"hi":1.8},{"e":4.43,"lo":-1.9,"hi":0.1},{"e":4.5,"lo":0.2,"hi":2.2},{"e":4.57,"lo":-2.6,"hi":-0.6},{"e":4.64,"lo":-0.9,"hi":1.1},{"e":4.71,"lo":-0.3,"hi":1.7},{"e":4.78,"lo":-1.5,"hi":0.5},{"e":4.85,"lo":0.9,"hi":2.9},{"e":4.92,"lo":-2.2,"hi":-0.2},{"e":4.99,"lo":-0.6,"hi":1.4},{"e":5.06,"lo":-1.7,"hi":0.3},{"e":5.13,"lo":0.3,"hi":2.3},{"e":5.2,"lo":-1.2,"hi":0.8},{"e":5.27,"lo":-2.8,"hi":-0.8},{"e":5.34,"lo":-0.1,"hi":1.9},{"e":5.41,"lo":-0.7,"hi":1.3},{"e":5.48,"lo":-2.0,"hi":0.0},{"e":5.55,"lo":0.6,"hi":2.6},{"e":5.62,"lo":-1.6,"hi":0.4},{"e":5.69,"lo":-0.8,"hi":1.2},{"e":5.76,"lo":-2.5,"hi":-0.5},{"e":5.83,"lo":0.1,"hi":2.1},{"e":5.9,"lo":-0.5,"hi":1.5},{"e":5.97,"lo":-1.9,"hi":0.1},{"e":6.04,"lo":0.4,"hi":2.4},{"e":6.11,"lo":-2.7,"hi":-0.7},{"e":6.18,"lo":-1.0,"hi":1.0},{"e":6.25,"lo":-0.3,"hi":1.7},{"e":6.32,"lo":-2.2,"hi":-0.2},{"e":6.39,"lo":0.8,"hi":2.8},{"e":6.46,"lo":-1.4,"hi":0.6},{"e":6.53,"lo":-0.4,"hi":1.6},{"e":6.6,"lo":-2.9,"hi":-0.9},{"e":6.67,"lo":-0.1,"hi":1.9},{"e":6.74,"lo":-0.7,"hi":1.3},{"e":6.81,"lo":-1.8,"hi":0.2},{"e":6.88,"lo":0.5,"hi":2.5},{"e":6.95,"lo":-2.1,"hi":-0.1},
            {"e":7.05,"lo":-0.2,"hi":1.8},{"e":7.15,"lo":-2.4,"hi":-0.4},{"e":7.25,"lo":0.1,"hi":2.1},{"e":7.35,"lo":-1.3,"hi":0.7},{"e":7.45,"lo":-0.5,"hi":1.5},{"e":7.55,"lo":-2.8,"hi":-0.8},{"e":7.65,"lo":0.6,"hi":2.6},{"e":7.75,"lo":-1.6,"hi":0.4},{"e":7.85,"lo":-0.8,"hi":1.2},{"e":7.95,"lo":-2.2,"hi":-0.2},{"e":8.05,"lo":0.3,"hi":2.3},{"e":8.15,"lo":-0.6,"hi":1.4},{"e":8.25,"lo":-1.9,"hi":0.1},{"e":8.35,"lo":0.9,"hi":2.9},{"e":8.45,"lo":-2.5,"hi":-0.5},{"e":8.55,"lo":-0.9,"hi":1.1},{"e":8.65,"lo":-0.2,"hi":1.8},{"e":8.75,"lo":-2.1,"hi":-0.1},{"e":8.85,"lo":0.2,"hi":2.2},{"e":8.95,"lo":-1.4,"hi":0.6},{"e":9.05,"lo":-2.7,"hi":-0.7},{"e":9.15,"lo":-0.1,"hi":1.9},{"e":9.25,"lo":-0.7,"hi":1.3},{"e":9.35,"lo":-2.0,"hi":0.0},{"e":9.45,"lo":0.5,"hi":2.5},{"e":9.55,"lo":-1.5,"hi":0.5},{"e":9.65,"lo":-0.4,"hi":1.6},{"e":9.75,"lo":-2.6,"hi":-0.6},{"e":9.85,"lo":0.0,"hi":2.0},{"e":9.95,"lo":-1.2,"hi":0.8},{"e":10.05,"lo":0.3,"hi":2.3},{"e":10.15,"lo":-2.3,"hi":-0.3},{"e":10.25,"lo":-0.6,"hi":1.4}
          ]},
          "mark": {"type": "rule", "color": "#111111", "strokeWidth": 1.3, "opacity": 0.8, "clip": true},
          "encoding": {
            "x": {"field": "e", "type": "quantitative", "scale": {"type": "log", "domain": [0.8, 182.4], "nice": false}, "axis": null},
            "y": {"field": "lo", "type": "quantitative", "scale": {"domain": [-3.3, 3.4], "nice": false, "zero": false}, "axis": null},
            "y2": {"field": "hi"}
          }
        },
        {
          "data": {"values": [{}]},
          "mark": {"type": "rule", "color": "#1fe01f", "strokeWidth": 3.5},
          "encoding": {
            "y": {"datum": 0, "type": "quantitative", "scale": {"domain": [-3.3, 3.4], "nice": false, "zero": false}, "axis": null}
          }
        }
      ]
    }
  ]
}
